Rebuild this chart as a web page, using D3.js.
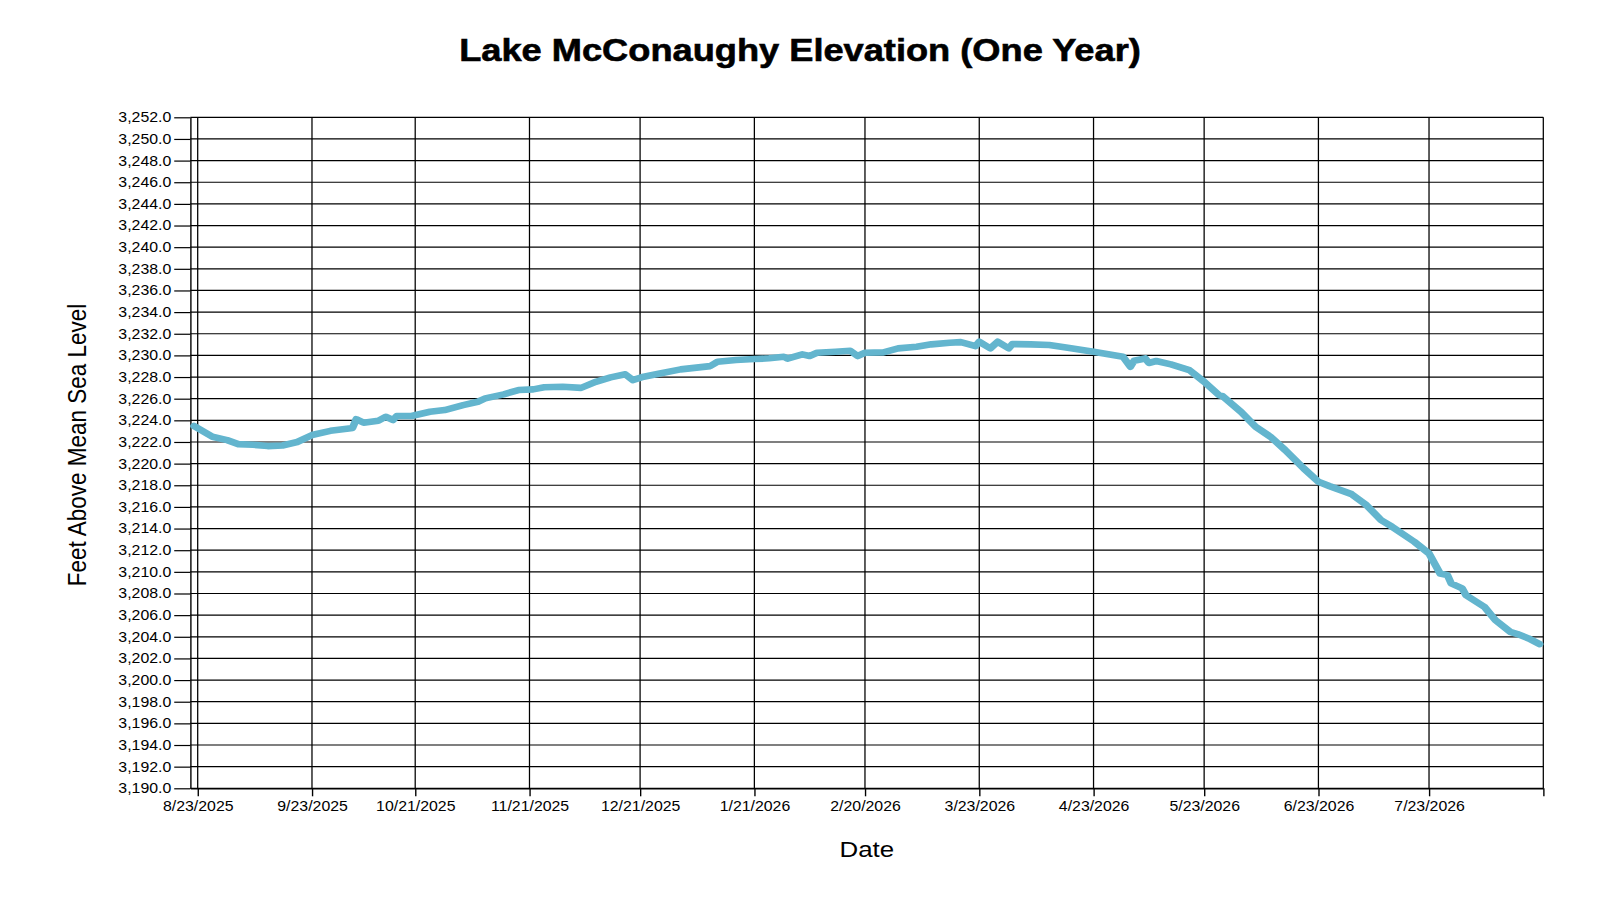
<!DOCTYPE html>
<html>
<head>
<meta charset="utf-8">
<script src="https://cdn.jsdelivr.net/npm/d3@7"></script>
<style>
  html, body { margin: 0; padding: 0; background: #fff; }
  svg { display: block; }
</style>
</head>
<body>
<div id="chart"></div>
<script>
// observed readings (date, feet above MSL)
const obsDates = [
  "2025-08-22","2025-08-27","2025-08-31","2025-09-03","2025-09-07","2025-09-11","2025-09-15","2025-09-19",
  "2025-09-23","2025-09-28","2025-10-03","2025-10-04","2025-10-05","2025-10-07","2025-10-11","2025-10-13",
  "2025-10-15","2025-10-16","2025-10-20","2025-10-25","2025-10-29","2025-11-03","2025-11-07","2025-11-09",
  "2025-11-14","2025-11-18","2025-11-22","2025-11-25","2025-11-30","2025-12-05","2025-12-09","2025-12-13",
  "2025-12-17","2025-12-19","2025-12-22","2025-12-26","2026-01-01","2026-01-09","2026-01-11","2026-01-16",
  "2026-01-21","2026-01-25","2026-01-29","2026-01-30","2026-02-03","2026-02-05","2026-02-07","2026-02-12",
  "2026-02-16","2026-02-18","2026-02-20","2026-02-25","2026-03-01","2026-03-06","2026-03-10","2026-03-15",
  "2026-03-18","2026-03-22","2026-03-23","2026-03-26","2026-03-28","2026-03-31","2026-04-01","2026-04-06",
  "2026-04-11","2026-04-16","2026-04-23","2026-04-27","2026-05-01","2026-05-03","2026-05-04","2026-05-07",
  "2026-05-08","2026-05-10","2026-05-14","2026-05-19","2026-05-23","2026-05-27","2026-05-28","2026-06-02",
  "2026-06-06","2026-06-10","2026-06-14","2026-06-19","2026-06-23","2026-06-26","2026-07-02","2026-07-06",
  "2026-07-10","2026-07-13","2026-07-19","2026-07-23","2026-07-26","2026-07-28","2026-07-29","2026-08-01",
  "2026-08-02","2026-08-07","2026-08-10","2026-08-14","2026-08-16","2026-08-19","2026-08-22"
];
const elevations = [
  3223.47,3222.48,3222.17,3221.80,3221.74,3221.62,3221.68,3222.00,
  3222.64,3223.03,3223.25,3223.30,3224.10,3223.78,3223.96,3224.33,
  3224.03,3224.40,3224.40,3224.79,3224.95,3225.41,3225.72,3226.03,
  3226.40,3226.80,3226.86,3227.05,3227.10,3227.00,3227.56,3227.97,
  3228.25,3227.72,3228.03,3228.30,3228.71,3229.01,3229.41,3229.57,
  3229.66,3229.73,3229.88,3229.70,3230.10,3229.94,3230.24,3230.34,
  3230.43,3229.94,3230.24,3230.28,3230.65,3230.80,3231.02,3231.17,
  3231.23,3230.86,3231.26,3230.65,3231.26,3230.65,3231.05,3231.02,
  3230.96,3230.71,3230.34,3230.10,3229.88,3228.95,3229.50,3229.72,
  3229.30,3229.48,3229.17,3228.64,3227.56,3226.34,3226.24,3224.79,
  3223.40,3222.48,3221.25,3219.56,3218.32,3217.92,3217.18,3216.17,
  3214.78,3214.16,3212.78,3211.70,3209.85,3209.70,3208.93,3208.47,
  3207.85,3206.77,3205.54,3204.46,3204.25,3203.85,3203.32
];
// axis ticks
const xTickDates = [
  "2025-08-23","2025-09-23","2025-10-21","2025-11-21","2025-12-21","2026-01-21",
  "2026-02-20","2026-03-23","2026-04-23","2026-05-23","2026-06-23","2026-07-23","2026-08-23"
];
const xTickLabels = [
  "8/23/2025","9/23/2025","10/21/2025","11/21/2025","12/21/2025","1/21/2026",
  "2/20/2026","3/23/2026","4/23/2026","5/23/2026","6/23/2026","7/23/2026",""
];
const yTicks = d3.range(3190, 3253, 2);

const parse = d3.timeParse("%Y-%m-%d");
const data = obsDates.map((d, i) => ({date: parse(d), value: elevations[i]}));
const xTicks = xTickDates.map(parse);

// the picture is stretched sideways, so draw in a narrower box and let the viewBox widen it
const SX = 1.15,
  W = 1600 / SX,
  H = 900,
  margin = {top: 117.3, right: 49.3, bottom: 111.7, left: 165.5},
  iw = W - margin.left - margin.right,
  ih = H - margin.top - margin.bottom;

const svg = d3.select("#chart").append("svg")
  .attr("width", 1600)
  .attr("height", 900)
  .attr("viewBox", `0 0 ${W} ${H}`)
  .attr("preserveAspectRatio", "none");

const x = d3.scaleTime()
  .domain([parse("2025-08-21"), parse("2026-08-23")])
  .range([0, iw]);
const y = d3.scaleLinear()
  .domain([3190, 3252])
  .range([ih, 0]);

const g = svg.append("g").attr("transform", `translate(${margin.left},${margin.top})`);

// grid
const grid = g.append("g").attr("class", "grid");
grid.selectAll(".hline")
  .data(yTicks)
  .enter().append("line")
  .attr("x1", 0).attr("x2", iw)
  .attr("y1", d => y(d)).attr("y2", d => y(d))
  .attr("stroke", "#000").attr("stroke-width", 1.2);
grid.selectAll(".vline")
  .data(xTicks)
  .enter().append("line")
  .attr("x1", d => x(d)).attr("x2", d => x(d))
  .attr("y1", 0).attr("y2", ih)
  .attr("stroke", "#000").attr("stroke-width", 1.1);

// axes
const yAxis = g.append("g")
  .call(d3.axisLeft(y).tickValues(yTicks).tickFormat(d3.format(",.1f")).tickSize(14).tickSizeOuter(0).tickPadding(2.6));
const xAxis = g.append("g")
  .attr("transform", `translate(0,${ih})`)
  .call(d3.axisBottom(x).tickValues(xTicks).tickFormat((d, i) => xTickLabels[i]).tickSize(8).tickSizeOuter(0).tickPadding(5));

[yAxis, xAxis].forEach(a => {
  a.selectAll("path, line").attr("stroke", "#000").attr("stroke-width", 1.2);
  a.selectAll("text")
    .attr("fill", "#000")
    .style("font-family", "'Liberation Sans', Arial, sans-serif")
    .style("font-size", "13.8px");
});

// the level line
const line = d3.line()
  .x(d => x(d.date))
  .y(d => y(d.value));

g.append("path")
  .datum(data)
  .attr("d", line)
  .attr("fill", "none")
  .attr("stroke", "#63b5ce")
  .attr("stroke-width", 6.6)
  .attr("stroke-linejoin", "round")
  .attr("stroke-linecap", "round");

// titles
svg.append("text")
  .attr("x", W / 2)
  .attr("y", 61)
  .attr("text-anchor", "middle")
  .style("font-family", "'Liberation Sans', Arial, sans-serif")
  .style("font-weight", "bold")
  .style("font-size", "31.5px")
  .style("stroke", "#000")
  .style("stroke-width", "0.6px")
  .text("Lake McConaughy Elevation (One Year)");

svg.append("text")
  .attr("x", margin.left + iw / 2)
  .attr("y", 857)
  .attr("text-anchor", "middle")
  .style("font-family", "'Liberation Sans', Arial, sans-serif")
  .style("font-size", "22.5px")
  .text("Date");

svg.append("text")
  .attr("transform", `translate(${86 / SX},445) rotate(-90)`)
  .attr("text-anchor", "middle")
  .style("font-family", "'Liberation Sans', Arial, sans-serif")
  .style("font-size", "22.5px")
  .text("Feet Above Mean Sea Level");
</script>
</body>
</html>
